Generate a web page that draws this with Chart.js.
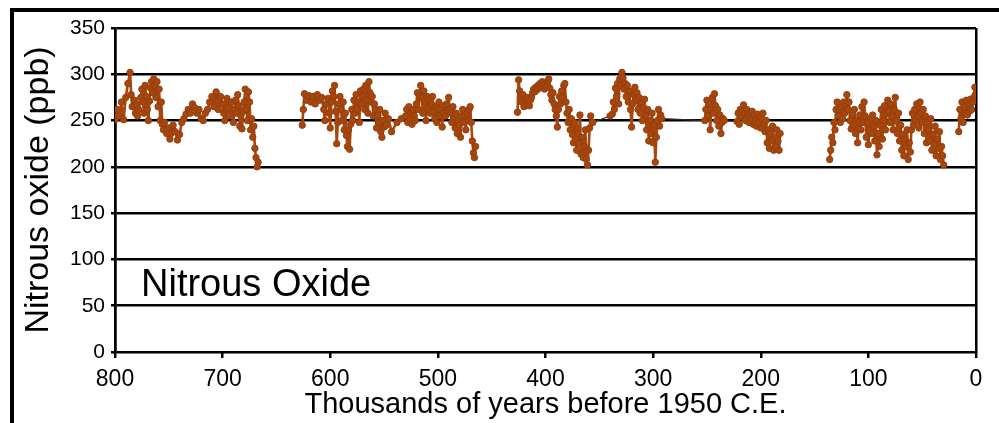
<!DOCTYPE html>
<html>
<head>
<meta charset="utf-8">
<script src="https://cdn.jsdelivr.net/npm/chart.js@4.4.0/dist/chart.umd.min.js"></script>
<style>
  html, body { margin: 0; padding: 0; background: #fff; }
  canvas { display: block; }
</style>
</head>
<body>
<canvas id="grafico" width="999" height="423"></canvas>
<script>
// idade em milhares de anos antes de 1950 (null = lacuna no registro)
const ages = [
  // 800 - 667
  800,798,796,794,792,790,788,786,785,784,
  782,781,780,779,778,776,775,774,773,772,
  771,770,769,768,767,766,765,764,763,762,
  761,760,759,758,757,756,755,754,752,750,
  749,748,746,744,742,740,738,736,734,732,
  730,728,726,724,722,720,718,716,714,712,
  710,708,706,705,704,702,700,699,698,697,
  696,695,694,692,690,689,688,687,686,685,
  684,683,682,681,680,679,678,677,676,675,
  674,673,672,671,670,669,668,667,
  650,
  // 626 - 465
  626,625,624,622,620,618,616,614,612,610,
  608,606,605,604,602,601,600,599,598,597,
  596,595,594,593,592,591,590,589,588,587,
  586,585,584,583,582,581,580,579,578,577,
  576,575,574,573,572,571,570,569,568,567,
  566,565,564,563,562,561,560,559,558,557,
  556,555,554,553,552,551,550,549,548,546,
  543,538,534,530,529,528,527,526,525,524,
  523,522,521,520,519,518,517,516,515,514,
  513,512,511,510,509,508,507,506,505,504,
  503,502,501,500,499,498,497,496,495,494,
  493,492,491,490,489,488,487,486,485,484,
  483,482,481,480,479,478,477,476,475,474,
  473,472,471,470,469,468,467,466,465,
  445,
  // 426 - 182
  426,425,424,423,422,421,420,419,418,417,
  416,415,414,413,412,411,410,409,408,407,
  406,405,404,403,402,401,400,399,398,397,
  396,395,394,393,392,391,390,389,388,387,
  386,385,384,383,382,381,380,379,378,377,
  376,375,374,373,372,371,370,369,368,367,
  366,365,364,363,362,361,360,359,358,356,
  340,338,337,336,335,334,333,332,331,330,
  329,328,327,326,325,324,323,322,321,320,
  319,318,317,316,315,314,313,312,311,310,
  309,308,307,306,305,304,303,302,301,300,
  299,298,297,296,295,294,293,292,252,251,
  250,249,248,247,246,245,244,243,242,241,
  240,239,238,237,236,235,234,222,221,220,
  219,218,217,216,215,214,213,212,211,210,
  209,208,207,206,205,204,203,202,201,200,
  199,198,197,196,195,194,193,192,191,190,
  189,188,187,186,185,184,183,182,
  160,
  // 136 - 30
  136,135,134,133,132,131,130,129,128,127,
  126,125,124,123,122,121,120,119,118,117,
  116,115,114,113,112,111,110,109,108,107,
  106,105,104,103,102,101,100,99,98,97,
  96,95,94,93,92,91,90,89,88,87,
  86,85,84,83,82,81,80,79,78,77,
  76,75,74,73,72,71,70,69,68,67,
  66,65,64,63,62,61,60,59,58,57,
  56,55,54,53,52,51,50,49,48,47,
  46,45,44,43,42,41,40,39,38,37,
  36,35,34,33,32,31,30,
  22,
  // 16 - 0
  16,15,14,13,12,11,10,9,8,7,
  6,5,4,3,2,1,0.5
];

// óxido nitroso (ppb)
const n2o = [
  251,262,255,270,251,275,290,302,278,265,
  272,258,268,255,262,275,284,270,258,288,
  276,262,250,271,285,292,280,295,288,275,
  292,265,284,250,270,246,240,248,236,242,
  230,236,245,238,229,235,248,252,257,262,
  258,268,264,258,262,252,250,258,262,270,
  276,265,281,272,262,276,268,258,250,262,
  274,264,255,270,248,262,272,258,278,266,
  244,255,241,260,270,284,262,250,281,270,
  240,252,232,244,220,210,200,205,
  null,
  245,262,279,272,277,270,276,268,278,272,
  275,262,250,268,274,258,242,270,282,276,
  288,260,225,248,268,276,262,250,270,240,
  258,234,222,240,219,246,262,250,272,258,
  278,262,270,248,282,268,276,284,262,288,
  272,258,292,280,270,276,255,268,262,242,
  256,248,262,238,232,250,243,258,245,252,
  238,248,252,255,262,248,265,252,258,246,
  262,255,250,268,280,262,276,288,275,258,
  282,270,250,276,262,272,258,268,276,260,
  252,265,248,262,270,255,262,243,258,266,
  255,268,260,275,262,258,248,265,252,242,
  258,236,250,245,232,255,262,248,255,240,
  258,250,262,265,248,228,215,210,222,
  null,
  259,294,282,276,270,278,265,272,268,275,
  270,266,272,275,280,284,281,286,283,288,
  285,290,286,292,288,284,290,286,292,295,
  285,278,272,280,268,262,255,243,262,276,
  268,282,275,288,290,270,258,248,262,240,
  252,235,226,248,230,218,242,225,256,214,
  232,210,222,240,208,202,218,242,255,248,
  255,257,270,262,285,276,290,268,295,288,
  302,296,284,290,276,288,270,282,262,243,
  268,278,286,272,280,262,275,258,270,250,
  264,273,255,240,262,228,250,236,258,226,
  245,205,232,250,262,244,256,252,250,262,
  272,255,268,240,262,275,258,279,266,250,
  262,244,256,236,248,252,250,249,258,246,
  262,254,260,267,258,250,262,256,248,258,
  252,260,246,256,250,244,257,248,254,242,
  252,258,246,238,250,226,240,220,236,228,
  244,218,232,222,240,228,218,236,
  null,
  208,218,232,226,248,240,262,270,255,262,
  248,265,252,270,258,266,278,262,270,250,
  241,256,245,262,236,250,226,248,256,240,
  265,248,270,255,232,248,224,240,252,236,
  256,244,228,250,213,236,222,245,262,230,
  250,266,240,258,272,260,248,268,255,240,
  262,275,250,236,258,228,245,218,235,212,
  230,222,240,208,226,216,240,258,245,262,
  250,268,255,242,270,258,248,262,236,255,
  226,248,240,228,252,218,235,225,244,212,
  230,220,238,208,222,212,202,
  null,
  238,262,252,270,248,265,258,272,256,268,
  260,273,262,270,275,286,278
];

const yTicks = [0, 50, 100, 150, 200, 250, 300, 350];

const pontos = ages.map((a, i) => ({ x: a, y: n2o[i] }));

const fonte = "'Liberation Sans', Arial, sans-serif";
const corDado = '#A8460C';

// trechos longos sem amostras aparecem como linha fina
const trechoLongo = ctx => Math.abs(ctx.p0.parsed.x - ctx.p1.parsed.x) > 10;

// moldura preta e texto "Nitrous Oxide"
const moldura = {
    id: 'moldura',
    beforeDraw(chart) {
        const ctx = chart.ctx;
        ctx.save();
        ctx.fillStyle = '#fff';
        ctx.fillRect(0, 0, chart.width, chart.height);
        ctx.strokeStyle = '#000';
        ctx.lineWidth = 4;
        ctx.strokeRect(12, 10, 1100, 500);
        ctx.restore();
    },
    afterDatasetsDraw(chart) {
        const ctx = chart.ctx;
        ctx.save();
        ctx.fillStyle = '#000';
        ctx.font = '38px ' + fonte;
        ctx.textBaseline = 'alphabetic';
        ctx.fillText('Nitrous Oxide', 141, 296);
        ctx.restore();
    }
};

new Chart(document.getElementById('grafico'), {
    type: 'line',
    data: {
        datasets: [{
            label: 'Nitrous oxide',
            data: pontos,
            borderColor: corDado,
            backgroundColor: corDado,
            borderWidth: 2.6,
            borderJoinStyle: 'round',
            borderCapStyle: 'round',
            pointRadius: 3.2,
            pointBorderWidth: 1,
            pointBorderColor: '#93400f',
            spanGaps: false,
            tension: 0,
            segment: {
                borderWidth: ctx => trechoLongo(ctx) ? 1.2 : undefined,
                borderColor: ctx => trechoLongo(ctx) ? '#3a2a20' : undefined
            }
        }]
    },
    options: {
        responsive: false,
        animation: false,
        devicePixelRatio: 1,
        layout: { padding: { left: 14, right: 23, top: 28, bottom: 0 } },
        plugins: {
            legend: { display: false },
            tooltip: { enabled: false }
        },
        scales: {
            x: {
                type: 'linear',
                reverse: true,
                min: 0,
                max: 800,
                afterFit: s => { s.height = 71; },
                ticks: {
                    stepSize: 100,
                    padding: 8,
                    color: '#000',
                    font: { family: fonte, size: 23 }
                },
                grid: {
                    color: c => (c.tick && (c.tick.value === 0 || c.tick.value === 800)) ? '#000' : 'rgba(0,0,0,0)',
                    tickColor: '#000',
                    lineWidth: 2.5,
                    tickLength: 6
                },
                border: { display: false },
                title: {
                    display: true,
                    text: 'Thousands of years before 1950 C.E.',
                    color: '#000',
                    font: { family: fonte, size: 29 },
                    padding: { top: 0, bottom: 1 }
                }
            },
            y: {
                min: 0,
                max: 350,
                afterFit: s => { s.width = 101; },
                afterBuildTicks: s => { s.ticks = yTicks.map(v => ({ value: v })); },
                ticks: {
                    padding: 6,
                    color: '#000',
                    font: { family: fonte, size: 21 }
                },
                grid: {
                    color: '#000',
                    lineWidth: 2.5,
                    tickLength: 4
                },
                border: { color: '#000', width: 2.5 },
                title: {
                    display: true,
                    text: 'Nitrous oxide (ppb)',
                    color: '#000',
                    font: { family: fonte, size: 34 },
                    padding: { top: 4, bottom: 0 }
                }
            }
        }
    },
    plugins: [moldura]
});
</script>
</body>
</html>
